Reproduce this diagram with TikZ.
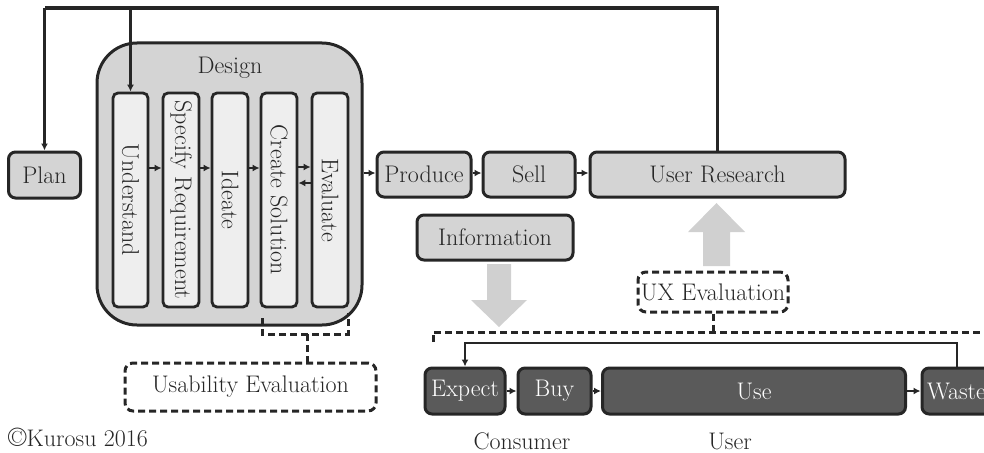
\documentclass[tikz,border=0pt]{standalone}
\usepackage{graphicx}
\usetikzlibrary{arrows.meta}
\definecolor{lboxc}{HTML}{D4D4D4}
\definecolor{colc}{HTML}{EEEEEE}
\definecolor{dboxc}{HTML}{5A5A5A}
\definecolor{garrowc}{HTML}{D0D0D0}
\definecolor{lnc}{HTML}{262626}
\newcommand\dgfont{\fontsize{24}{28}\selectfont}
\begin{document}
\begin{tikzpicture}[x=1pt,y=-1pt,
  lbox/.style={draw=lnc, line width=3pt, fill=lboxc, rounded corners=7pt, inner sep=0pt, font=\dgfont, text=lnc},
  colbox/.style={draw=lnc, line width=2.8pt, fill=colc, rounded corners=5pt, minimum width=35pt, minimum height=214pt, inner sep=0pt, font=\dgfont, text=lnc},
  dbox/.style={draw=lnc, line width=3pt, fill=dboxc, rounded corners=7pt, inner sep=0pt, font=\dgfont, text=white, minimum height=46pt},
  dashbox/.style={draw=lnc, line width=3pt, dash pattern=on 7pt off 4pt, rounded corners=8pt, inner sep=0pt, font=\dgfont, text=lnc},
  arr/.style={draw=lnc, line width=2.2pt, -{Latex[length=7pt,width=7pt]}},
  dline/.style={draw=lnc, line width=3pt, dash pattern=on 7pt off 4pt},
  mainline/.style={draw=lnc, line width=3.4pt},
  plain/.style={font=\dgfont, text=lnc, inner sep=0pt}]
\useasboundingbox (0,0) rectangle (984,452);
\clip (0,0) rectangle (984,452);

% Design block
\node[lbox, rounded corners=40pt, minimum width=265pt, minimum height=282pt] (design) at (229.5,184) {};
\node[plain] (designlbl) at (230,68) {Design};
\node[colbox] (und) at (130.5,200) {\rotatebox{-90}{Understand}};
\node[colbox, minimum width=36pt] (spec) at (181,200) {\rotatebox{-90}{Specify Requirement}};
\node[colbox, minimum width=36pt] (idea) at (230,200) {\rotatebox{-90}{Ideate}};
\node[colbox, minimum width=36pt] (crea) at (279,200) {\rotatebox{-90}{Create Solution}};
\node[colbox, minimum width=36pt] (eval) at (330,200) {\rotatebox{-90}{Evaluate}};

\draw[arr] (und.east |- 0,168) -- (spec.west |- 0,168);
\draw[arr] (spec.east |- 0,168) -- (idea.west |- 0,168);
\draw[arr] (idea.east |- 0,168) -- (crea.west |- 0,168);
\draw[arr] (crea.east |- 0,167) -- (eval.west |- 0,167);
\draw[arr] (eval.west |- 0,183) -- (crea.east |- 0,183);

% Plan
\node[lbox, minimum width=72pt, minimum height=46pt] (plan) at (44.5,175) {Plan};

% Top row
\node[lbox, minimum width=94pt, minimum height=45pt] (prod) at (424,174.5) {Produce};
\node[lbox, minimum width=92pt, minimum height=45pt] (sell) at (529,174.5) {Sell};
\node[lbox, minimum width=255pt, minimum height=45pt] (ures) at (717.5,174.5) {User Research};
\node[lbox, minimum width=156pt, minimum height=45pt] (info) at (495,237.5) {Information};

\draw[arr] (design.east |- 0,173) -- (prod.west |- 0,173);
\draw[arr] (prod.east |- 0,173) -- (sell.west |- 0,173);
\draw[arr] (sell.east |- 0,173) -- (ures.west |- 0,173);

% Top feedback loop
\coordinate (tr) at (717.5,8);
\coordinate (tl) at (44.5,8);
\coordinate (tb) at (130.5,8);
\draw[mainline] (ures.north) -- (tr) -- (tl);
\draw[arr, line width=2.6pt] (tl) -- (plan.north);
\draw[arr, line width=2.6pt] (tb) -- (und.north);

% Gray block arrows
\fill[garrowc] (487,264) -- (511,264) -- (511,300) -- (527,300) -- (499,327) -- (471,300) -- (487,300) -- cycle;
\fill[garrowc] (703,266) -- (730,266) -- (730,232) -- (745,232) -- (716.5,203) -- (688,232) -- (703,232) -- cycle;

% UX Evaluation
\node[dashbox, minimum width=150pt, minimum height=40pt] (ux) at (713,292) {UX Evaluation};
\draw[dline] (ux.south) -- (ux.south |- 0,332);
\draw[dline] (433,342) -- (433,332) -- (990,332);

% Usability evaluation
\node[dashbox, minimum width=251pt, minimum height=48pt] (usab) at (250.5,387) {Usability Evaluation};
\draw[dline] (262,318) -- (262,334) -- (348,334) -- (348,313);
\draw[dline] (307,334) -- (usab.north -| 307,0);

% Bottom row
\node[dbox, minimum width=80pt] (expect) at (465,391) {Expect};
\node[dbox, minimum width=73pt] (buy) at (554.5,391) {Buy};
\node[dbox, minimum width=303pt] (use) at (754,391) {Use};
\node[dbox, minimum width=90pt, text width=80pt, align=left, inner xsep=5pt] (waste) at (967,391) {Waste};
\draw[arr] (expect.east) -- (buy.west);
\draw[arr] (buy.east) -- (use.west);
\draw[arr] (use.east) -- (waste.west);
\draw[arr] (waste.north -| 957,0) -- (957,343) -- (465,343) -- (expect.north);

% Labels
\node[plain, anchor=base west] (copy) at (8,446) {{\fontsize{27}{28}\selectfont\textcopyright}Kurosu 2016};
\node[plain] (consumer) at (522,441) {Consumer};
\node[plain] (user) at (730,441) {User};
\end{tikzpicture}
\end{document}
